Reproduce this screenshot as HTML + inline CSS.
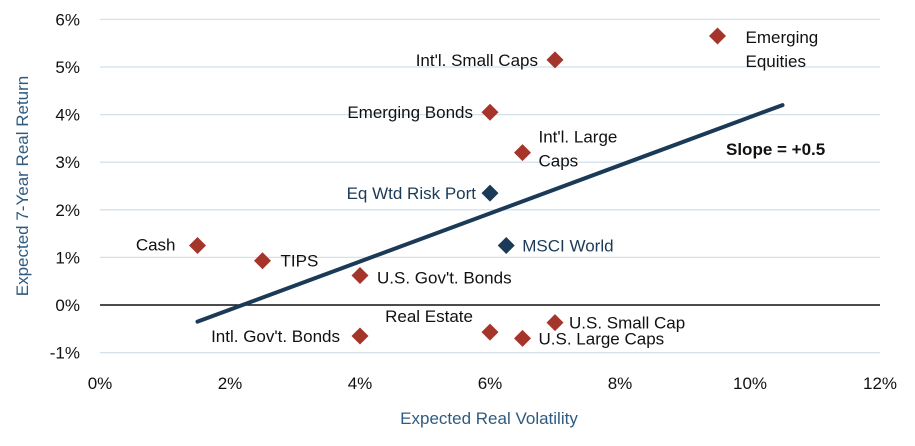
<!DOCTYPE html>
<html><head><meta charset="utf-8"><style>
body{margin:0;background:#fff;}
svg{display:block;font-family:"Liberation Sans Narrow","Liberation Sans",sans-serif;}
</style></head><body>
<svg id="chart" width="915" height="446" viewBox="0 0 915 446"></svg>
<script>
const yTicks=[6,5,4,3,2,1,0,-1];
const xTicks=[0,2,4,6,8,10,12];
const names=["Cash","TIPS","U.S. Gov't. Bonds","Intl. Gov't. Bonds","Real Estate","U.S. Large Caps","U.S. Small Cap","Eq Wtd Risk Port","MSCI World","Emerging Bonds","Int'l. Large Caps","Int'l. Small Caps","Emerging Equities"];
const vols=[1.5,2.5,4,4,6,6.5,7,6,6.25,6,6.5,7,9.5];
const rets=[1.25,0.93,0.62,-0.65,-0.57,-0.7,-0.37,2.35,1.25,4.05,3.2,5.15,5.65];
const colors=["r","r","r","r","r","r","r","n","n","r","r","r","r"];
const fitLine=[[1.5,-0.35],[10.5,4.2]];
const X=v=>100+v*65, Y=v=>305-v*47.6;
const svg=document.getElementById('chart');
const NS='http://www.w3.org/2000/svg';
function mk(t,a,txt){const e=document.createElementNS(NS,t);for(const k in a)e.setAttribute(k,a[k]);if(txt!==undefined)e.textContent=txt;svg.appendChild(e);return e;}
yTicks.forEach(t=>{
 const g=mk('line',{x1:100,x2:880,y1:Y(t),y2:Y(t),stroke:t===0?'#111':'#d3e1ec','stroke-width':t===0?1.5:1.3});
 
 
 const l=mk('text',{x:80,y:Y(t)+6,'text-anchor':'end','font-size':17,fill:'#111'},t+'%');
 
 
});
xTicks.forEach(t=>{
 const l=mk('text',{x:X(t),y:389,'text-anchor':'middle','font-size':17,fill:'#111'},t+'%');
 
 
});
const yt=mk('text',{x:0,y:0,transform:'translate(28,186) rotate(-90)','text-anchor':'middle','font-size':17,fill:'#2f5b80'},'Expected 7-Year Real Return');


const xt=mk('text',{x:489,y:424,'text-anchor':'middle','font-size':17,fill:'#2f5b80'},'Expected Real Volatility');


const ln=mk('line',{x1:X(fitLine[0][0]),y1:Y(fitLine[0][1]),x2:X(fitLine[1][0]),y2:Y(fitLine[1][1]),stroke:'#1b3a57','stroke-width':4,'stroke-linecap':'round'});


const sl=mk('text',{x:726,y:155,'font-size':17,'font-weight':'bold',fill:'#111'},'Slope = +0.5');


const lab={
"Cash":[-22,5,'end'],"TIPS":[18,6,'start'],"U.S. Gov't. Bonds":[17,8,'start'],
"Intl. Gov't. Bonds":[-20,6,'end'],"Real Estate":[-17,-10,'end'],"U.S. Large Caps":[16,6,'start'],
"U.S. Small Cap":[14,6,'start'],"Eq Wtd Risk Port":[-14,6,'end'],"MSCI World":[16,6,'start'],
"Emerging Bonds":[-17,6,'end'],"Int'l. Large Caps":[16,-10,'start',["Int'l. Large","Caps"]],
"Int'l. Small Caps":[-17,6,'end'],"Emerging Equities":[28,7,'start',["Emerging","Equities"]]};
names.forEach((n,i)=>{
 const cx=X(vols[i]),cy=Y(rets[i]),s=8.5;
 const c=colors[i]==='n'?'#1b3a57':'#a5352b';
 const p=mk('polygon',{points:`${cx},${cy-s} ${cx+s},${cy} ${cx},${cy+s} ${cx-s},${cy}`,fill:c});
 
 
 const L=lab[n];const lines=L[3]||[n];
 lines.forEach((t,k)=>{
  const tx=mk('text',{x:cx+L[0],y:cy+L[1]+k*24,'text-anchor':L[2],'font-size':17,fill:colors[i]==='n'?'#1b3a57':'#111'},t);
  
  
 });
});
</script>
</body></html>
